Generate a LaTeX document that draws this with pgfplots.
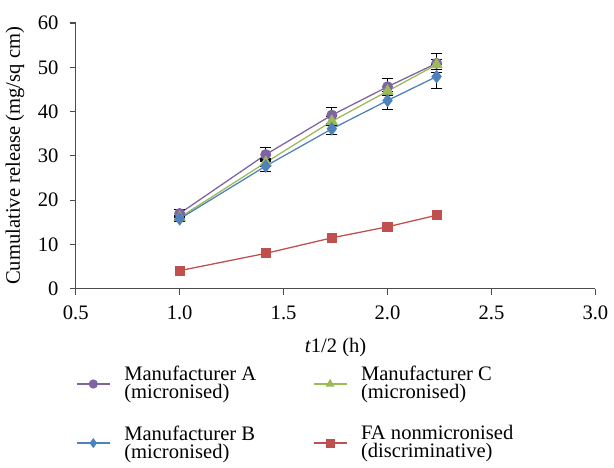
\documentclass[border=0pt]{standalone}
\usepackage{pgfplots}
\pgfplotsset{compat=1.18}
\usepackage{fontspec}
\setmainfont{Liberation Serif}
\definecolor{cA}{RGB}{128,100,162}
\definecolor{cB}{RGB}{79,129,189}
\definecolor{cC}{RGB}{155,187,89}
\definecolor{cF}{RGB}{192,80,77}
\begin{document}
\begin{tikzpicture}
\begin{axis}[
  width=303pt, height=155pt, scale only axis,
  xmin=0.5, xmax=3.0, ymin=0, ymax=60,
  axis lines=left, axis line style={-, gray!60!black, line width=0.7pt},
  xtick={0.5,1.0,1.5,2.0,2.5,3.0},
  ytick={0,10,20,30,40,50,60},
  tick align=outside, tick style={gray!60!black, line width=0.7pt},
  major tick length=3.5pt,
  xticklabel style={yshift=-3pt, /pgf/number format/.cd, fixed, fixed zerofill, precision=1},
  yticklabel style={xshift=-3pt},
  /pgf/number format/assume math mode=true,
  tick label style={font=\fontsize{12}{14}\selectfont},
  label style={font=\fontsize{12}{14}\selectfont},
  xlabel={\textit{t}1/2 (h)},
  xlabel style={yshift=-4pt},
  ylabel={Cumulative release (mg/sq cm)},
  ylabel style={yshift=1pt},
  legend columns=2,
  legend cell align=left,
  legend style={at={(0,-0.265)}, anchor=north west, draw=none, fill=none,
    font=\fontsize{12}{10.5}\selectfont, inner xsep=0pt,
    cells={align=left},
    row sep=10pt,
    /tikz/every odd column/.append style={column sep=6pt},
    /tikz/every even column/.append style={column sep=31pt}},
  legend image code/.code={%
    \draw[mark repeat=2,mark phase=2,#1,mark size=2.3pt]
      plot coordinates {(0cm,0cm) (0.34cm,0cm) (0.68cm,0cm)};},
  every axis plot/.append style={line width=0.75pt},
  error bars/error bar style={black, line width=0.6pt},
  error bars/error mark options={black, rotate=90, mark size=3.3pt, line width=0.6pt},
]
\addplot[color=cA, mark=*, mark size=2.8pt, mark options={fill=cA, draw=cA},
  error bars/.cd, y dir=both, y explicit]
  coordinates {(1.000,17.0) +- (0,0.8) (1.414,30.3) +- (0,1.5) (1.732,39.2) +- (0,1.8) (2.000,45.6) +- (0,1.9) (2.236,50.9) +- (0,2.1)};
\addlegendentry{Manufacturer A\\(micronised)}
\addplot[color=cC, mark=triangle*, mark size=3.4pt, mark options={fill=cC, draw=cC},
  error bars/.cd, y dir=both, y explicit]
  coordinates {(1.000,16.1) +- (0,0.5) (1.414,28.5) +- (0,0.8) (1.732,37.8) +- (0,1.0) (2.000,44.6) +- (0,1.0) (2.236,50.6) +- (0,1.2)};
\addlegendentry{Manufacturer C\\(micronised)}
\addplot[color=cB, mark=diamond*, mark size=3.4pt, mark options={fill=cB, draw=cB},
  error bars/.cd, y dir=both, y explicit]
  coordinates {(1.000,15.8) +- (0,0.5) (1.414,27.7) +- (0,1.3) (1.732,36.1) +- (0,1.3) (2.000,42.5) +- (0,2.1) (2.236,47.9) +- (0,2.8)};
\addlegendentry{Manufacturer B\\(micronised)}
\addplot[color=cF, mark=square*, mark size=2.6pt, mark options={fill=cF, draw=cF}]
  coordinates {(1.000,4.1) (1.414,8.0) (1.732,11.5) (2.000,14.0) (2.236,16.6)};
\addlegendentry{FA nonmicronised\\(discriminative)}
\end{axis}
\path ([yshift=6pt]current bounding box.north);
\end{tikzpicture}
\end{document}
